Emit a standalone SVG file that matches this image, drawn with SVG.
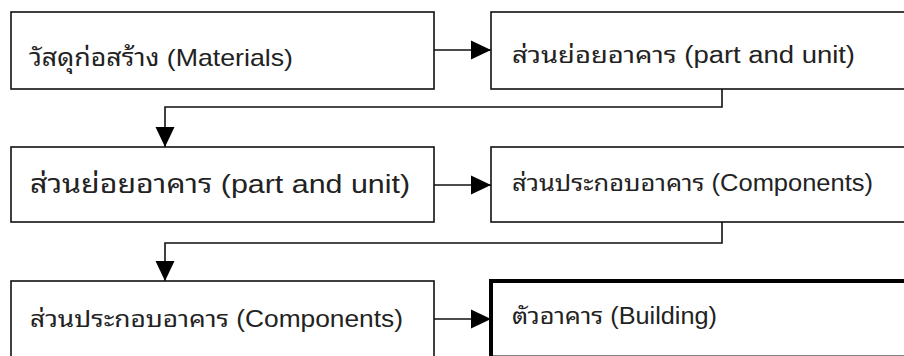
<svg xmlns="http://www.w3.org/2000/svg" width="904" height="356" viewBox="0 0 904 356">
<style>
.box{fill:#fff;stroke:#111;stroke-width:1.6}
.thick{fill:#fff;stroke:#000;stroke-width:4}
.t{font-family:"Liberation Sans","Noto Sans Thai Looped","Noto Sans Thai",sans-serif;fill:#222}
.c{fill:none;stroke:#111;stroke-width:1.6}
</style>
<defs>
<marker id="ah" markerUnits="userSpaceOnUse" markerWidth="20" markerHeight="20" viewBox="0 0 20 20" refX="20" refY="10" orient="auto">
<path d="M0,0.5 L20,10 L0,19.5 Z" fill="#000"/>
</marker>
</defs>
<rect width="904" height="356" fill="#fff"/>
<g id="connectors">
<path class="c" d="M434,50 H491" marker-end="url(#ah)"/>
<path class="c" d="M722,89 V107 H165 V147" marker-end="url(#ah)"/>
<path class="c" d="M434,185 H491" marker-end="url(#ah)"/>
<path class="c" d="M722,222 V243 H165 V281" marker-end="url(#ah)"/>
<path class="c" d="M434,319 H491" marker-end="url(#ah)"/>
</g>
<g id="n1"><rect class="box" x="11" y="12" width="423" height="77"/><text class="t" x="29" y="66" font-size="24" textLength="264" lengthAdjust="spacingAndGlyphs">วัสดุก่อสร้าง (Materials)</text></g>
<g id="n2"><rect class="box" x="491" y="12" width="440" height="77"/><text class="t" x="512" y="63" font-size="23" textLength="343" lengthAdjust="spacingAndGlyphs">ส่วนย่อยอาคาร (part and unit)</text></g>
<g id="n3"><rect class="box" x="11" y="147" width="423" height="75"/><text class="t" x="30" y="193" font-size="26" textLength="380" lengthAdjust="spacingAndGlyphs">ส่วนย่อยอาคาร (part and unit)</text></g>
<g id="n4"><rect class="box" x="491" y="147" width="440" height="75"/><text class="t" x="512" y="191" font-size="23" textLength="361" lengthAdjust="spacingAndGlyphs">ส่วนประกอบอาคาร (Components)</text></g>
<g id="n5"><rect class="box" x="11" y="281" width="423" height="120"/><text class="t" x="30" y="327" font-size="23" textLength="373" lengthAdjust="spacingAndGlyphs">ส่วนประกอบอาคาร (Components)</text></g>
<g id="n6"><rect class="thick" x="491" y="281" width="440" height="76.5"/><text class="t" x="512" y="324" font-size="23" textLength="205" lengthAdjust="spacingAndGlyphs">ตัวอาคาร (Building)</text></g>
</svg>
